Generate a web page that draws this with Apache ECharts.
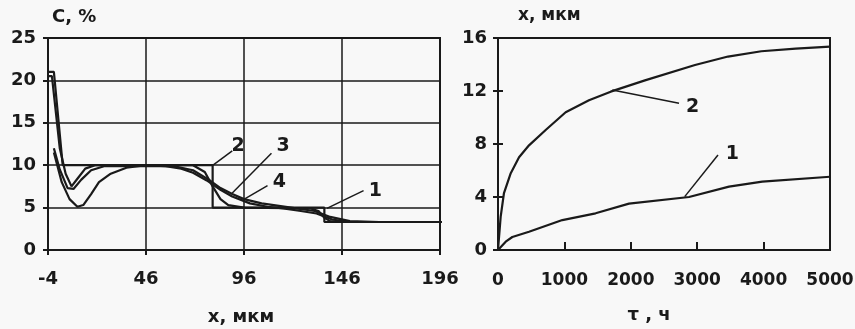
<!DOCTYPE html>
<html><head><meta charset="utf-8">
<script src="https://cdn.jsdelivr.net/npm/echarts@6/dist/echarts.min.js"></script>
<style>html,body{margin:0;padding:0;background:#f8f8f8}#c{width:855px;height:329px}</style>
</head><body><div id="c"></div>
<script>
// ---- Left chart: C, % vs x, мкм ----
const leftXTicks = [-4, 46, 96, 146, 196];
const leftYTicks = [0, 5, 10, 15, 20, 25];
const curve1 = [[-4,21],[-1,21],[3.5,10],[80,10],[80,5],[137,5],[137,3.3],[200,3.3]];
const curve2 = [[-4,20.5],[-2,20.5],[2,12],[5,9],[8,7.5],[11,8.4],[15,9.6],[20,10],[70,10],[76,9.2],[80,7.5],[84,6],[88,5.3],[96,5],[130,4.9],[134,4.6],[137,3.8],[140,3.4],[150,3.3],[200,3.3]];
const curve3 = [[-1,12],[2,9.5],[6,7.3],[9,7.2],[13,8.3],[18,9.4],[25,9.9],[60,9.9],[70,9.4],[78,8.3],[84,7.3],[90,6.6],[96,6],[105,5.5],[120,5],[132,4.6],[140,3.9],[150,3.4],[165,3.3],[200,3.3]];
const curve4 = [[-1,11.5],[3,8],[7,6],[11,5.1],[14,5.3],[18,6.6],[22,8.0],[28,9],[36,9.7],[46,10],[56,9.9],[64,9.6],[70,9.1],[77,8.2],[84,7.1],[90,6.3],[99,5.5],[108,5.1],[116,4.9],[125,4.6],[133,4.3],[141,3.6],[150,3.3],[200,3.3]];
const leftLabels = [[163,6.9,'1'],[93,12.3,'2'],[116,12.3,'3'],[114,8.0,'4']];
const leftLeaders = [
  [[138.3,4.9],[157,7.0]],
  [[80.2,10],[90,11.7]],
  [[89.9,6.7],[110,11.4]],
  [[95.5,5.9],[108,7.6]]
];
// ---- Right chart: x, мкм vs τ, ч ----
const rightXTicks = [0,1000,2000,3000,4000,5000];
const rightYTicks = [0,4,8,12,16];
const growth2 = [[0,0],[40,2.5],[90,4.3],[192,5.8],[317,7.0],[467,7.9],[718,9.06],[1019,10.4],[1370,11.3],[1697,11.95],[2213,12.8],[2967,13.96],[3464,14.6],[3966,15.0],[4483,15.2],[5000,15.35]];
const growth1 = [[0,0],[116,0.63],[216,0.98],[467,1.38],[969,2.26],[1470,2.77],[1973,3.5],[2877,4.0],[3479,4.78],[3980,5.16],[5000,5.53]];
const rightLabels = [[2930,10.8,'2'],[3530,7.25,'1']];
const rightLeaders = [
  [[1722,12.07],[2726,11.07]],
  [[2812,4.03],[3313,7.17]]
];

const INK = '#1a1a1a';
const FONT = 'DejaVu Sans';
const txt = {color: INK, fontFamily: FONT, fontWeight: 'bold', fontSize: 18};

const series = [];
[curve1, curve2, curve3, curve4].forEach(d => series.push({
  type:'line', xAxisIndex:0, yAxisIndex:0, data:d, symbol:'none', clip:false,
  lineStyle:{color:INK, width:2.2}, silent:true, z:3
}));
leftLeaders.forEach(d => series.push({
  type:'line', xAxisIndex:0, yAxisIndex:0, data:d, symbol:'none',
  lineStyle:{color:INK, width:1.5}, silent:true, z:4
}));
series.push({type:'scatter', xAxisIndex:0, yAxisIndex:0, data:leftLabels, symbolSize:0,
  itemStyle:{opacity:1, color:INK},
  label:{show:true, position:'inside', formatter:p=>p.value[2], ...txt, fontSize:19}, silent:true, z:5});
[growth1, growth2].forEach(d => series.push({
  type:'line', xAxisIndex:1, yAxisIndex:1, data:d, symbol:'none',
  lineStyle:{color:INK, width:2.2}, silent:true, z:3
}));
rightLeaders.forEach(d => series.push({
  type:'line', xAxisIndex:1, yAxisIndex:1, data:d, symbol:'none',
  lineStyle:{color:INK, width:1.5}, silent:true, z:4
}));
series.push({type:'scatter', xAxisIndex:1, yAxisIndex:1, data:rightLabels, symbolSize:0,
  itemStyle:{opacity:1, color:INK},
  label:{show:true, position:'inside', formatter:p=>p.value[2], ...txt, fontSize:19}, silent:true, z:5});

const axLine = {show:true, onZero:false, lineStyle:{color:INK, width:2}};
const option = {
  backgroundColor:'#f8f8f8',
  animation:false,
  grid:[
    {left:48, top:38, width:392, height:212, show:true, borderColor:INK, borderWidth:2, containLabel:false, outerBoundsMode:'none'},
    {left:498, top:38, width:332, height:212, show:true, borderColor:INK, borderWidth:2, containLabel:false, outerBoundsMode:'none'}
  ],
  xAxis:[
    {type:'value', gridIndex:0, min:leftXTicks[0], max:leftXTicks[leftXTicks.length-1], interval:50,
     axisLine:axLine, axisTick:{show:true, length:5, lineStyle:{color:INK,width:2}},
     axisLabel:{...txt, margin:20},
     splitLine:{show:true, lineStyle:{color:INK, width:1.5}},
     name:'x, мкм', nameLocation:'middle', nameGap:58, nameTextStyle:{...txt, fontSize:18, padding:[0,0,0,-6]}},
    {type:'value', gridIndex:1, min:0, max:5000, interval:1000,
     axisLine:axLine, axisTick:{show:true, inside:true, length:8, lineStyle:{color:INK,width:2}},
     axisLabel:{...txt, margin:22, fontSize:17, formatter:v=>String(v)},
     splitLine:{show:false},
     name:'τ , ч', nameLocation:'middle', nameGap:56, nameTextStyle:{...txt, fontSize:18, padding:[0,30,0,0]}},
  ],
  yAxis:[
    {type:'value', gridIndex:0, min:0, max:25, interval:5,
     axisLine:axLine, axisTick:{show:true, length:5, lineStyle:{color:INK,width:2}},
     axisLabel:{...txt, margin:12},
     splitLine:{show:true, lineStyle:{color:INK, width:1.5}},
     name:'C, %', nameLocation:'end', nameGap:12, nameTextStyle:{...txt, align:'left', padding:[0,0,0,4]}},
    {type:'value', gridIndex:1, min:0, max:16, interval:4,
     axisLine:axLine, axisTick:{show:true, length:5, lineStyle:{color:INK,width:2}},
     axisLabel:{...txt, margin:11},
     splitLine:{show:false},
     name:'x, мкм', nameLocation:'end', nameGap:14, nameTextStyle:{...txt, fontSize:17, align:'left', padding:[0,0,0,20]}},
    {type:'value', gridIndex:1, min:0, max:16, interval:4, position:'left',
     axisLine:{show:false}, axisTick:{show:true, inside:true, length:5, lineStyle:{color:INK,width:2}},
     axisLabel:{show:false}, splitLine:{show:false}}
  ],
  series
};
const chart = echarts.init(document.getElementById('c'), null, {renderer:'canvas'});
chart.setOption(option);
</script></body></html>
